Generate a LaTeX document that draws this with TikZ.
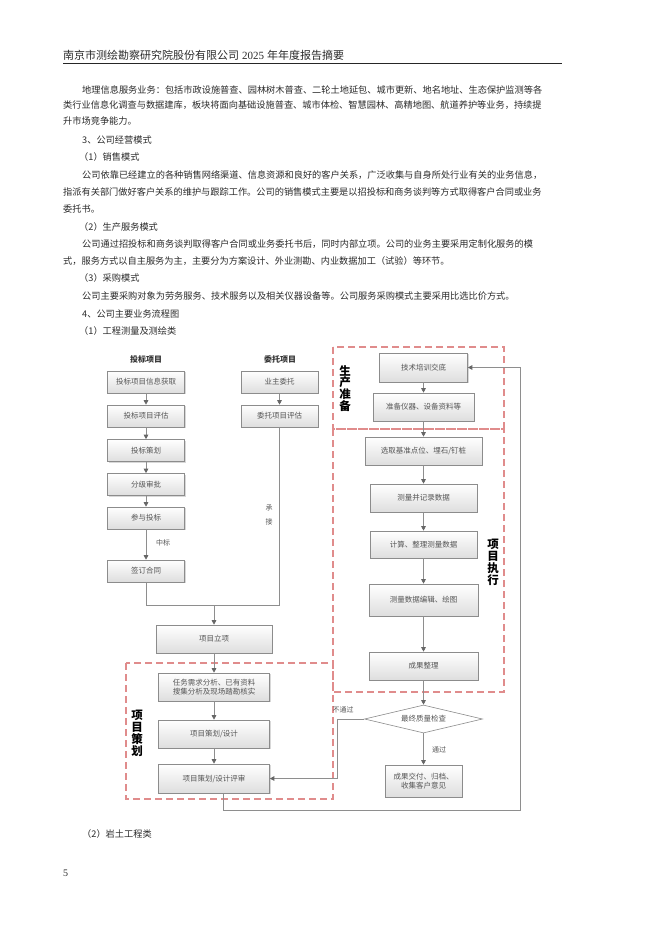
\documentclass[tikz,border=0pt]{standalone}
\usepackage{fontspec}
\setmainfont{Noto Sans CJK SC}
\newfontfamily\numfont{Liberation Serif}
\usepackage{xcolor}
\usetikzlibrary{arrows.meta,shapes.geometric,shadows}
\XeTeXlinebreaklocale "zh"
\XeTeXlinebreakskip=0pt plus 5pt

\definecolor{bodytext}{HTML}{2A2A2A}
\definecolor{boxedge}{HTML}{8C8C8C}
\definecolor{boxtext}{HTML}{555555}
\definecolor{flowgray}{HTML}{8E8E8E}
\definecolor{zonered}{HTML}{E08C8C}
\newcommand{\fillline}[1]{\parfillskip=0pt\relax#1}

\begin{document}
\begin{tikzpicture}[x=1pt,y=-1pt]
\tikzset{
  body/.style={anchor=west,inner sep=0pt,text=bodytext,font=\fontsize{9.2}{11}\selectfont},
  full/.style={body,text width=#1,align=justify},
  flowbox/.style={draw=boxedge,line width=0.6pt,top color=white,bottom color=black!13,
    drop shadow={shadow xshift=1.2pt,shadow yshift=-1.2pt,opacity=0.3},
    text=boxtext,font=\fontsize{7.5}{9.5}\selectfont,align=center,inner sep=1pt},
  leftbox/.style={flowbox,minimum width=77pt,minimum height=22pt},
  check/.style={diamond,draw=boxedge,line width=0.6pt,fill=white,aspect=4.2,
    minimum width=118pt,minimum height=28pt,inner sep=0pt,
    text=boxtext,font=\fontsize{7.5}{9.5}\selectfont},
  title/.style={inner sep=0pt,font=\bfseries\fontsize{8}{10}\selectfont,text=black!80},
  note/.style={inner sep=0pt,font=\fontsize{7}{9}\selectfont,text=boxtext},
  zonelabel/.style={inner sep=0pt,align=center,font=\bfseries\fontsize{11.5}{11.8}\selectfont},
  zone/.style={draw=zonered,line width=1.2pt,dash pattern=on 7pt off 4pt},
  link/.style={draw=flowgray,line width=0.7pt},
  flow/.style={link,-{Triangle[length=4.5pt,width=4.5pt,color=black!60]}}
}
\fill[white] (0,0) rectangle (662,936);
\useasboundingbox (0,0) rectangle (662,936);

% header
\node[body,font=\fontsize{11}{13}\selectfont] (head) at (63,55)
  {南京市测绘勘察研究院股份有限公司\hspace{3pt}{\numfont 2025}\hspace{3pt}年年度报告摘要};
\draw[line width=0.9pt,black!85] (63,63) -- (562,63);

% text
\node[full=470pt] (l1) at (82,90) {\fillline{地理信息服务业务：包括市政设施普查、园林树木普查、二轮土地延包、城市更新、地名地址、生态保护监测等各}};
\node[full=489pt] (l2) at (63,105.5) {\fillline{类行业信息化调查与数据建库，板块将面向基础设施普查、城市体检、智慧园林、高精地图、航道养护等业务，持续提}};
\node[body] (l3) at (63,121) {升市场竞争能力。};
\node[body] (l4) at (82,140) {3、公司经营模式};
\node[body] (l5) at (79,157) {（1）销售模式};
\node[full=470pt] (l6) at (82,175) {\fillline{公司依靠已经建立的各种销售网络渠道、信息资源和良好的客户关系，广泛收集与自身所处行业有关的业务信息，}};
\node[full=489pt] (l7) at (63,192) {\fillline{指派有关部门做好客户关系的维护与跟踪工作。公司的销售模式主要是以招投标和商务谈判等方式取得客户合同或业务}};
\node[body] (l8) at (63,209.5) {委托书。};
\node[body] (l9) at (79,227) {（2）生产服务模式};
\node[full=470pt] (l10) at (82,244) {\fillline{公司通过招投标和商务谈判取得客户合同或业务委托书后，同时内部立项。公司的业务主要采用定制化服务的模}};
\node[body] (l11) at (63,261) {式，服务方式以自主服务为主，主要分为方案设计、外业测勘、内业数据加工（试验）等环节。};
\node[body] (l12) at (79,278.5) {（3）采购模式};
\node[body] (l13) at (82,296) {公司主要采购对象为劳务服务、技术服务以及相关仪器设备等。公司服务采购模式主要采用比选比价方式。};
\node[body] (l14) at (82,314) {4、公司主要业务流程图};
\node[body] (l15) at (79,331) {（1）工程测量及测绘类};

% zones
\draw[zone] (333,347) rectangle (504,429);
\draw[zone] (333,429) rectangle (504,692);
\draw[zone] (126,663) rectangle (333,799);
\node[zonelabel] (scz) at (345,388.5) {生\\产\\准\\备};
\node[zonelabel] (zxz) at (493,562.5) {项\\目\\执\\行};
\node[zonelabel] (chz) at (137,733.5) {项\\目\\策\\划};

% bidding and entrusted projects
\node[title] (tbt) at (146,359) {投标项目};
\node[title] (wtt) at (280,359) {委托项目};
\node[leftbox] (tb1) at (146,382) {投标项目信息获取};
\node[leftbox] (tb2) at (146,416) {投标项目评估};
\node[leftbox] (tb3) at (146,450.5) {投标策划};
\node[leftbox] (tb4) at (146,484.5) {分级审批};
\node[leftbox] (tb5) at (146,518) {参与投标};
\node[leftbox] (tb6) at (146,571) {签订合同};
\node[leftbox] (wt1) at (279.5,382) {业主委托};
\node[leftbox] (wt2) at (279.5,416) {委托项目评估};

% planning
\node[flowbox,minimum width=116pt,minimum height=28pt] (lx) at (214,639) {项目立项};
\node[flowbox,minimum width=111pt,minimum height=28pt] (ch1) at (214,687) {任务需求分析、已有资料\\搜集分析及现场踏勘核实};
\node[flowbox,minimum width=111pt,minimum height=28pt] (ch2) at (214,734) {项目策划/设计};
\node[flowbox,minimum width=111pt,minimum height=29pt] (ch3) at (214,778.5) {项目策划/设计评审};

% preparation and execution
\node[flowbox,minimum width=88pt,minimum height=29pt] (sc1) at (423.5,367.5) {技术培训交底};
\node[flowbox,minimum width=101pt,minimum height=28pt] (sc2) at (423.5,407) {准备仪器、设备资料等};
\node[flowbox,minimum width=117pt,minimum height=28pt] (zx1) at (423.5,451) {选取基准点位、埋石/钉桩};
\node[flowbox,minimum width=107pt,minimum height=28pt] (zx2) at (423.5,498) {测量并记录数据};
\node[flowbox,minimum width=107pt,minimum height=27pt] (zx3) at (423.5,544.5) {计算、整理测量数据};
\node[flowbox,minimum width=109pt,minimum height=32pt] (zx4) at (423.5,600) {测量数据编辑、绘图};
\node[flowbox,minimum width=109pt,minimum height=28pt] (zx5) at (423.5,666) {成果整理};
\node[check] (chk) at (423.5,719) {最终质量检查};
\node[flowbox,minimum width=77pt,minimum height=32pt] (jf) at (423.5,781) {成果交付、归档、\\收集客户意见};

% connectors
\foreach \a/\b in {tb1/tb2,tb2/tb3,tb3/tb4,tb4/tb5,tb5/tb6,wt1/wt2,lx/ch1,ch1/ch2,ch2/ch3,
  sc1/sc2,sc2/zx1,zx1/zx2,zx2/zx3,zx3/zx4,zx4/zx5,zx5/chk,chk/jf}
  \draw[flow] (\a) -- (\b);
\coordinate (merge) at (214,605);
\coordinate (back) at (520,810);
\draw[link] (tb6.south) |- (wt2.south |- merge) -- (wt2.south);
\draw[flow] (merge) -- (lx);
\draw[flow] (chk.west) -- ++(-27,0) |- (ch3.east);
\draw[flow] ([xshift=9pt]ch3.south) |- (back) |- (sc1.east);

\node[note] (zb) at (163,543) {中标};
\node[note,align=center,font=\fontsize{7}{14}\selectfont] (cj) at (269,515) {承\\接};
\node[note] (btg) at (343,710) {不通过};
\node[note] (tg) at (439,750) {通过};

% footer
\node[body] (l16) at (82,834) {（2）岩土工程类};
\node[body,font=\numfont\fontsize{10}{12}\selectfont] (page) at (63,873) {5};
\end{tikzpicture}
\end{document}
